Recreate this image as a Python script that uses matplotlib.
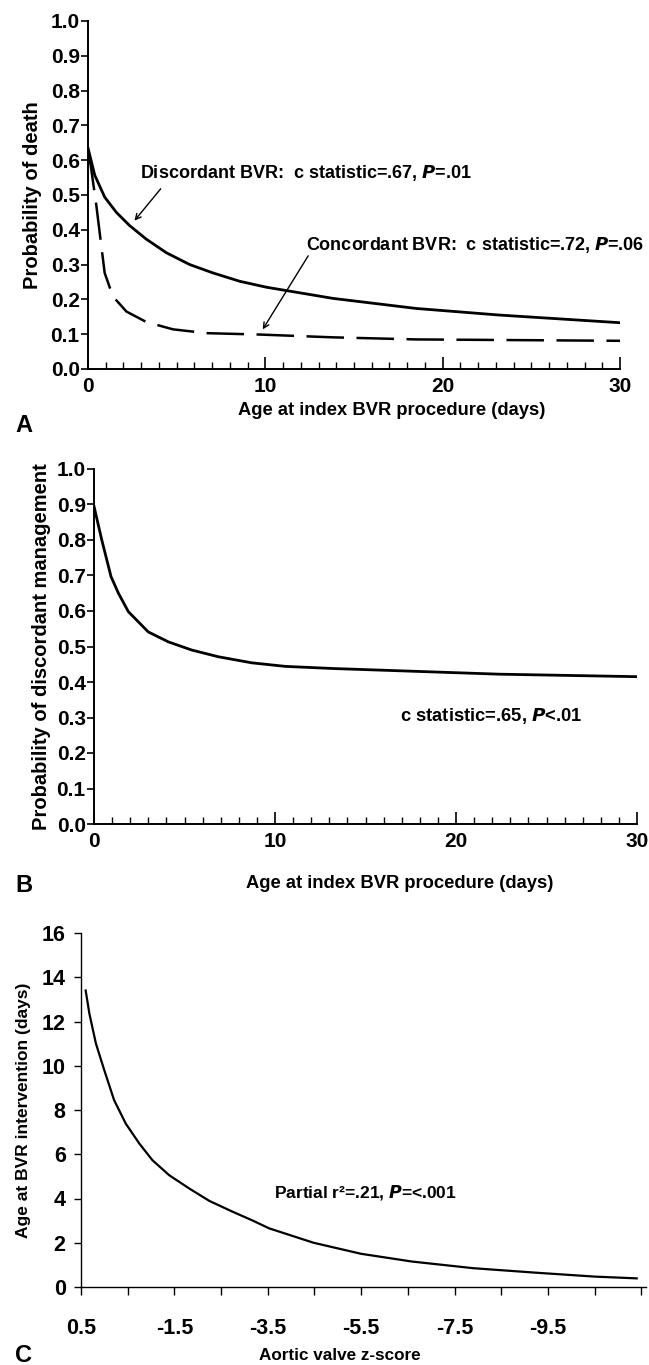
import numpy as np
import matplotlib
matplotlib.use('Agg')
import matplotlib.pyplot as plt
import matplotlib.transforms as mtransforms
from matplotlib.ticker import MultipleLocator

plt.rcParams['font.family'] = ['Liberation Sans', 'DejaVu Sans']
plt.rcParams['font.weight'] = 'bold'
plt.rcParams['axes.labelweight'] = 'bold'

# panel A: probability of death vs age (days)
days_disc = [0, 0.38, 0.94, 1.6, 2.35, 3.29, 4.42, 5.74, 7.05, 8.56, 10.06, 13.8, 18.5, 23.2, 30]
prob_disc = [0.635, 0.557, 0.494, 0.45, 0.412, 0.373, 0.334, 0.30, 0.276, 0.252, 0.235,
             0.203, 0.174, 0.155, 0.133]
days_conc = [0, 0.15, 0.47, 0.75, 0.94, 1.41, 2.17, 3.29, 4.79, 6.68, 9.68, 13.8, 18.5, 30]
prob_conc = [0.62, 0.586, 0.47, 0.354, 0.276, 0.208, 0.165, 0.135, 0.114, 0.103, 0.099,
             0.091, 0.085, 0.081]

# panel B: probability of discordant management
days_b = [0, 0.43, 0.94, 1.35, 1.9, 3.0, 4.11, 5.4, 6.88, 8.72, 10.57, 13.2, 17.8, 22.4, 30]
prob_b = [0.895, 0.80, 0.697, 0.65, 0.598, 0.541, 0.513, 0.49, 0.471, 0.454, 0.444,
          0.438, 0.43, 0.422, 0.415]

# panel C: age at intervention vs aortic valve z-score
zscore = [0.4, 0.32, 0.18, 0.0, -0.21, -0.46, -0.75, -1.03, -1.39, -1.82, -2.25, -2.75,
          -3.18, -3.53, -4.48, -5.5, -6.59, -7.9, -9.22, -10.5, -11.4]
age_c = [13.4, 12.35, 11.0, 9.79, 8.44, 7.38, 6.48, 5.73, 5.05, 4.45, 3.89, 3.40,
         3.0, 2.65, 2.0, 1.5, 1.15, 0.85, 0.65, 0.47, 0.39]
z_ticks = [0.5, -1.5, -3.5, -5.5, -7.5, -9.5]

W, H = 649, 1365
fig = plt.figure(figsize=(W / 100, H / 100), dpi=100)


def px_axes(l, t, r, b):
    return fig.add_axes([l / W, 1 - b / H, (r - l) / W, (b - t) / H])


def style_prob(ax):
    ax.set_xlim(0, 30)
    ax.set_ylim(0, 1)
    ax.spines['top'].set_visible(False)
    ax.spines['right'].set_visible(False)
    ax.set_yticks(np.arange(0, 1.01, 0.1))
    ax.set_yticklabels(['%.1f' % v for v in np.arange(0, 1.01, 0.1)])
    ax.set_xticks([0, 10, 20, 30])
    ax.xaxis.set_minor_locator(MultipleLocator(1))
    ax.tick_params(axis='x', which='major', direction='in', length=9, width=1.2, pad=6, labelsize=15)
    ax.tick_params(axis='x', which='minor', direction='in', length=5, width=1.0)
    ax.tick_params(axis='y', direction='out', length=5, width=1.2, pad=1, labelsize=15)
    for s in ['left', 'bottom']:
        ax.spines[s].set_linewidth(1.4)


# ---- A
ax1 = px_axes(88, 21, 620, 369)
style_prob(ax1)
ax1.plot(days_disc, prob_disc, color='black', lw=2.0)
ax1.plot(days_conc, prob_conc, color='black', lw=1.8, dashes=(15, 5))
ax1.set_ylabel('Probability of death', fontsize=14.5, labelpad=6)
ax1.text(2.94, 0.562, 'Discordant BVR:  c statistic=.67, $\\mathbfit{P}$=.01', fontsize=13, va='center')
ax1.annotate('', xy=(2.52, 0.42), xytext=(4.2, 0.524),
             arrowprops=dict(arrowstyle='->', color='black', lw=1))
ax1.text(12.3, 0.356, 'Concordant BVR:  c statistic=.72, $\\mathbfit{P}$=.06', fontsize=13, va='center',
         clip_on=False)
ax1.annotate('', xy=(9.77, 0.107), xytext=(12.5, 0.332),
             arrowprops=dict(arrowstyle='->', color='black', lw=1))
fig.text(392 / W, 1 - 410 / H, 'Age at index BVR procedure (days)', fontsize=13.2, ha='center', va='center')
fig.text(15 / W, 1 - 425 / H, 'A', fontsize=17, ha='left', va='center')

# ---- B
ax2 = px_axes(94, 469, 637, 824)
style_prob(ax2)
ax2.plot(days_b, prob_b, color='black', lw=2.0)
ax2.set_ylabel('Probability of discordant management', fontsize=14.5, labelpad=4)
ax2.text(16.9, 0.305, 'c statistic=.65, $\\mathbfit{P}$<.01', fontsize=13.2, va='center')
fig.text(400 / W, 1 - 883 / H, 'Age at index BVR procedure (days)', fontsize=13.2, ha='center', va='center')
fig.text(15 / W, 1 - 886 / H, 'B', fontsize=17, ha='left', va='center')

# ---- C
ax3 = px_axes(81, 933, 646, 1287)
ax3.set_xlim(0.5, -11.6)
ax3.set_ylim(0, 16)
ax3.spines['top'].set_visible(False)
ax3.spines['right'].set_visible(False)
ax3.plot(zscore, age_c, color='black', lw=1.6)
ax3.set_yticks(range(0, 17, 2))
zt = np.arange(0.5, -11.6, -1.0)
ax3.set_xticks(zt)
ax3.set_xticklabels([('%.1f' % v if np.isclose(v, z_ticks).any() else '') for v in zt])
shift = mtransforms.ScaledTranslation(7 / 100, 0, fig.dpi_scale_trans)
for lab in ax3.get_xticklabels():
    lab.set_transform(lab.get_transform() + shift)
ax3.tick_params(axis='x', direction='out', length=6, width=1.0, pad=16, labelsize=15.5)
ax3.tick_params(axis='y', direction='out', length=5, width=1.0, pad=6, labelsize=15.5)
for s in ['left', 'bottom']:
    ax3.spines[s].set_linewidth(1.0)
ax3.set_ylabel('Age at BVR intervention (days)', fontsize=12.5, labelpad=8)
ax3.text(-3.64, 4.27, 'Partial r²=.21, $\\mathbfit{P}$=<.001', fontsize=12.5, va='center')
fig.text(340 / W, 1 - 1356 / H, 'Aortic valve z-score', fontsize=12.3, ha='center', va='center')
fig.text(15 / W, 1 - 1355 / H, 'C', fontsize=17, ha='left', va='center')

fig.savefig('out.png', dpi=100)
